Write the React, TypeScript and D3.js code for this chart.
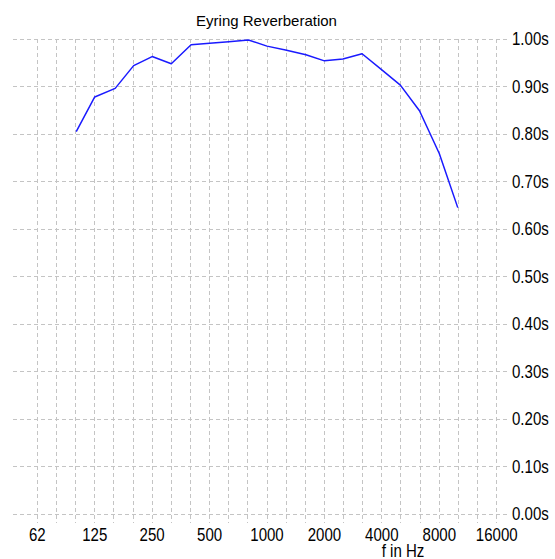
import React, { useEffect, useRef } from "react";
import * as d3 from "d3";

// third-octave bands measured (Hz) and Eyring reverberation time (s)
const freqs = [
  100, 125, 160, 200, 250, 315, 400, 500, 630, 800, 1000, 1250, 1600, 2000,
  2500, 3150, 4000, 5000, 6300, 8000, 10000,
];
const rt60 = [
  0.805, 0.878, 0.896, 0.944, 0.963, 0.948, 0.988, 0.991, 0.994, 0.998, 0.985,
  0.977, 0.967, 0.954, 0.958, 0.969, 0.935, 0.903, 0.849, 0.759, 0.645,
];
const octaveTicks = [62.5, 125, 250, 500, 1000, 2000, 4000, 8000, 16000];
const octaveLabels = ["62", "125", "250", "500", "1000", "2000", "4000", "8000", "16000"];
const yTicks = [0, 0.1, 0.2, 0.3, 0.4, 0.5, 0.6, 0.7, 0.8, 0.9, 1.0];

export default function App() {
  const ref = useRef<SVGSVGElement>(null);

  useEffect(() => {
    draw();
  }, []);

  let draw = () => {
    let svg = d3.select(ref.current);
    svg.selectAll("*").remove();

    let font = "'Liberation Sans', Arial, sans-serif";
    let gridColor = "#c4c4c4";
    // labels in the original are tall and narrow
    let squeeze = 0.86;

    let xScale = d3.scaleLog().base(2).domain([62.5, 16000]).range([37.3, 496.7]);
    let yScale = d3.scaleLinear().domain([0, 1]).range([514, 39]);

    // third-octave grid lines
    let gridFreqs = d3.range(0, 25).map((i) => 62.5 * Math.pow(2, i / 3));

    svg
      .append("g")
      .selectAll("line")
      .data(gridFreqs)
      .enter()
      .append("line")
      .attr("x1", (d) => xScale(d))
      .attr("x2", (d) => xScale(d))
      .attr("y1", yScale(1))
      .attr("y2", 523)
      .attr("stroke", gridColor)
      .attr("stroke-dasharray", "4,3")
      .attr("shape-rendering", "crispEdges");

    svg
      .append("g")
      .selectAll("line")
      .data(yTicks)
      .enter()
      .append("line")
      .attr("x1", 13)
      .attr("x2", 508)
      .attr("y1", (d) => yScale(d))
      .attr("y2", (d) => yScale(d))
      .attr("stroke", gridColor)
      .attr("stroke-dasharray", "4,3")
      .attr("shape-rendering", "crispEdges");

    // y labels on the right
    svg
      .append("g")
      .selectAll("text")
      .data(yTicks)
      .enter()
      .append("text")
      .attr("transform", (d) => `translate(512, ${yScale(d) + 6}) scale(${squeeze}, 1)`)
      .attr("font-family", font)
      .attr("font-size", 17.5)
      .attr("fill", "#000")
      .text((d) => d3.format(".2f")(d) + "s");

    // x labels
    svg
      .append("g")
      .selectAll("text")
      .data(octaveTicks)
      .enter()
      .append("text")
      .attr("transform", (d) => `translate(${xScale(d)}, 541) scale(${squeeze}, 1)`)
      .attr("text-anchor", "middle")
      .attr("font-family", font)
      .attr("font-size", 17.5)
      .attr("fill", "#000")
      .text((d, i) => octaveLabels[i]);

    svg
      .append("text")
      .attr("transform", `translate(403, 557) scale(${squeeze}, 1)`)
      .attr("text-anchor", "middle")
      .attr("font-family", font)
      .attr("font-size", 17.5)
      .text("f in Hz");

    svg
      .append("text")
      .attr("x", 266.5)
      .attr("y", 25.5)
      .attr("text-anchor", "middle")
      .attr("font-family", font)
      .attr("font-size", 15)
      .text("Eyring Reverberation");

    let line = d3
      .line<number>()
      .x((d, i) => xScale(freqs[i]))
      .y((d) => yScale(d));

    svg
      .append("path")
      .datum(rt60)
      .attr("d", line)
      .attr("fill", "none")
      .attr("stroke", "#1a1aff")
      .attr("stroke-width", 1.5)
      .attr("stroke-linejoin", "round");
  };

  return (
    <svg
      ref={ref}
      width={555}
      height={559}
      style={{ position: "absolute", left: 0, top: 0, background: "#fff" }}
    />
  );
}
